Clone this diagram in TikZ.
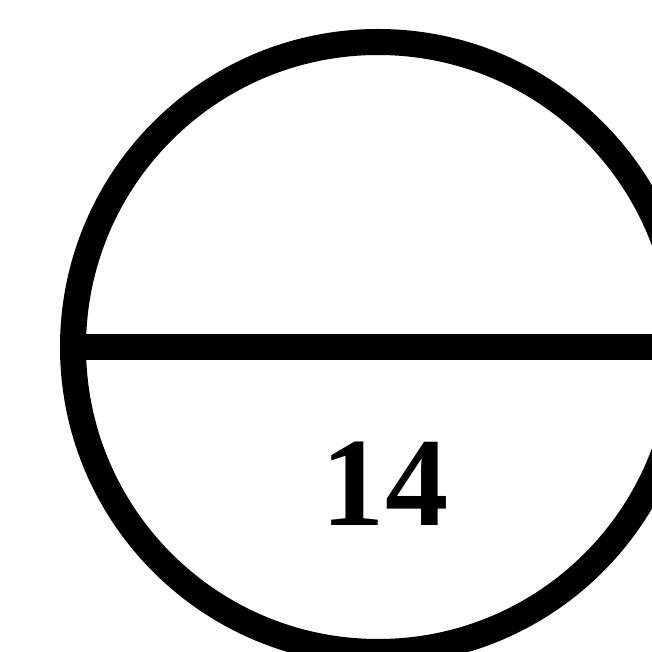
\documentclass[tikz,border=0pt]{standalone}
\usepackage{fontspec}
\setmainfont{Liberation Serif}
\usetikzlibrary{positioning}

\begin{document}
\begin{tikzpicture}[x=1cm,y=1cm,
  ringline/.style={line width=7.4pt, black},
  numlabel/.style={font=\fontsize{36}{40}\selectfont\bfseries, inner sep=0pt}]

% === Frame ===
\useasboundingbox (0,0) rectangle (6.52,6.52);
\clip (0,0) rectangle (6.52,6.52);

% === Circle ===
\node[circle, draw, ringline, minimum size=6.1cm, inner sep=0pt] (ring) at (3.78,3.05) {};

% === Diameter ===
\coordinate (edge) at (6.6,3.05);
\draw[ringline] (ring.west) -- (edge);

% === Number ===
\node[numlabel] (num) at (3.85,1.68) {14};

\end{tikzpicture}
\end{document}
